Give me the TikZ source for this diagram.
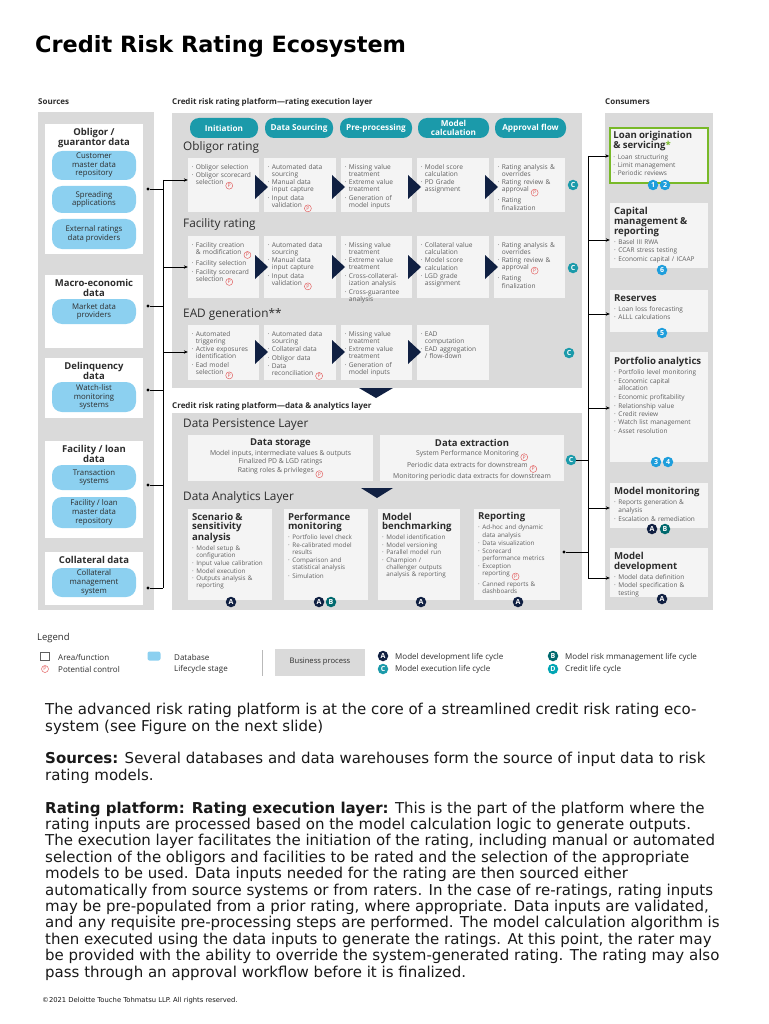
\documentclass[tikz,border=0pt]{standalone}
\usepackage{fontspec}
\setmainfont{Open Sans}
\newfontfamily\dejavu{DejaVu Sans}
\usetikzlibrary{fit,arrows.meta}
\definecolor{pgray}{RGB}{218,218,218}
\definecolor{boxw}{RGB}{244,244,244}
\definecolor{tealc}{RGB}{27,154,170}
\definecolor{pillb}{RGB}{140,208,240}
\definecolor{navy}{RGB}{16,32,66}
\definecolor{txtg}{RGB}{95,95,95}
\definecolor{txtd}{RGB}{45,45,45}
\definecolor{txtb}{RGB}{25,25,25}
\definecolor{greenb}{RGB}{120,185,40}
\definecolor{numb}{RGB}{30,158,220}
\definecolor{pred}{RGB}{226,90,90}
\definecolor{bteal}{RGB}{0,105,110}
\definecolor{dteal}{RGB}{0,165,180}
\newcommand\myfs[2]{\fontsize{#1}{#2}\selectfont}
\newcommand\itm[1]{\par\noindent\makebox[4.4pt][l]{\textperiodcentered}\begin{tabular}[t]{@{}l@{}}#1\end{tabular}}
\newcommand\pc{\tikz[baseline=-1.9pt]\node[circle,draw=pred,line width=0.45pt,inner sep=0pt,minimum size=7pt,text=pred,font=\myfs{5.2}{5.2}]{P};}
\newcommand\atitle[1]{{\bfseries\color{txtd}\myfs{9.6}{9.2}\setlength\parskip{0pt}#1\par}\vspace{1.5pt}}
\newcommand\ctitle[1]{{\bfseries\color{txtd}\myfs{9.6}{10}\setlength\parskip{0pt}#1\par}\vspace{1pt}}
\newcommand\ebx[6]{\node[ebox,fit={(#2,#3)(#4,#5)}] (#1) {};\node[etxt,anchor=north west] (#1t) at ([shift={(3.5,3.5)}]#1.north west) {#6};}
\newcommand\dsrc{\itm{Automated data\\sourcing}\itm{Manual data\\input capture}\itm{Input data\\validation \pc}}
\newcommand\prep{\itm{Missing value\\treatment}\itm{Extreme value\\treatment}\itm{Generation of\\model inputs}}
\newcommand\appr{\itm{Rating analysis \&\\overrides}\itm{Rating review \&\\approval \pc}\itm{Rating\\finalization}}
\newcommand\rtri[2]{\fill[navy] (#1-4,#2-12) -- (#1-4,#2+12) -- (#1+9,#2) -- cycle;}
\begin{document}
\begin{tikzpicture}[x=1pt,y=-1pt,
 panel/.style={fill=pgray,inner sep=0,draw=none},
 ebox/.style={fill=boxw,inner sep=0,draw=none},
 wbox/.style={fill=white,inner sep=0,draw=none},
 etxt/.style={inner sep=0,align=left,text width=100pt,text=txtg,font={\myfs{6.6}{7.0}\setlength\parskip{0.6pt}}},
 atxt/.style={inner sep=0,align=left,text width=100pt,text=txtg,font={\myfs{6.3}{7.1}\setlength\parskip{0.4pt}}},
 ctxt/.style={inner sep=0,align=left,text width=100pt,text=txtg,font={\myfs{6.5}{7.5}\setlength\parskip{0.8pt}}},
 hdr/.style={anchor=base west,inner sep=0,text=txtd,font=\bfseries\myfs{8}{9}},
 rowlbl/.style={anchor=base west,inner sep=0,text=txtd,font=\myfs{11.8}{13}},
 phase/.style={fill=tealc,rounded corners=9pt,text=white,align=center,inner sep=0,minimum height=20pt,font=\bfseries\myfs{8.2}{8.6}},
 pill/.style={fill=pillb,rounded corners=10pt,align=center,inner sep=0,text=txtd,font=\myfs{7.8}{8.6},minimum width=84pt},
 stitle/.style={anchor=north,align=center,inner sep=0,text=txtd,font=\bfseries\myfs{9.5}{10}},
 bdg/.style={circle,fill=#1,text=white,inner sep=0,minimum size=10.5pt,font=\bfseries\myfs{7}{7}},
 dotn/.style={circle,fill=black,inner sep=0,minimum size=3.2pt},
 conn/.style={draw=black,line width=0.6pt},
 arr/.style={conn,-{Stealth[length=4pt,width=3.4pt]}},
 ltxt/.style={anchor=west,inner sep=0,text=txtd,font=\myfs{8}{9}},
]
\useasboundingbox (0,0) rectangle (768,1024);
\fill[white] (0,0) rectangle (768,1024);
% title
\node[anchor=base west,inner sep=0,text=black,font=\dejavu\bfseries\myfs{22.4}{24}] (title) at (35,53) {Credit Risk Rating Ecosystem};
% headers
\node[hdr] (hsrc) at (38,105) {Sources};
\node[hdr] (hexe) at (172,105) {Credit risk rating platform—rating execution layer};
\node[hdr] (hcon) at (605,105) {Consumers};
% ---------------- sources
\node[panel,fit={(38,112)(154,610)}] (srcp) {};
\node[wbox,fit={(45,124)(143,254)}] (s1) {};
\node[stitle] (s1t) at (94,128) {Obligor /\\guarantor data};
\node[pill,minimum height=29pt] (s1a) at (94,165.5) {Customer\\master data\\repository};
\node[pill,minimum height=27pt] (s1b) at (94,199.5) {Spreading\\applications};
\node[pill,minimum height=30pt] (s1c) at (94,234) {External ratings\\data providers};
\node[dotn] (d1) at (148,189) {};
\node[wbox,fit={(45,275)(143,348)}] (s2) {};
\node[stitle] (s2t) at (94,279) {Macro-economic\\data};
\node[pill,minimum height=25pt] (s2a) at (94,311.5) {Market data\\providers};
\node[dotn] (d2) at (148,306) {};
\node[wbox,fit={(45,358)(143,418)}] (s3) {};
\node[stitle] (s3t) at (94,362) {Delinquency\\data};
\node[pill,minimum height=30pt] (s3a) at (94,397) {Watch-list\\monitoring\\systems};
\node[dotn] (d3) at (148,390) {};
\node[wbox,fit={(45,441)(143,538)}] (s4) {};
\node[stitle] (s4t) at (94,445) {Facility / loan\\data};
\node[pill,minimum height=25pt] (s4a) at (94,477.5) {Transaction\\systems};
\node[pill,minimum height=31pt] (s4b) at (94,512.5) {Facility / loan\\master data\\repository};
\node[dotn] (d4) at (148,485) {};
\node[wbox,fit={(45,552)(143,605)}] (s5) {};
\node[stitle] (s5t) at (94,556) {Collateral data};
\node[pill,minimum height=29pt] (s5a) at (94,582.5) {Collateral\\management\\system};
\node[dotn] (d5) at (148,588) {};
% ---------------- execution layer
\node[panel,fit={(172,113)(582,388)}] (exep) {};
\node[phase,minimum width=68pt] (ph1) at (224,128) {Initiation};
\node[phase,minimum width=68pt] (ph2) at (299,128) {Data Sourcing};
\node[phase,minimum width=72pt] (ph3) at (376,128) {Pre-processing};
\node[phase,minimum width=71pt] (ph4) at (453.5,128) {Model\\calculation};
\node[phase,minimum width=71pt] (ph5) at (530.5,128) {Approval flow};
\node[rowlbl] (lo) at (183,151) {Obligor rating};
\node[rowlbl] (lf) at (183,228) {Facility rating};
\node[rowlbl] (le) at (183,317) {EAD generation**};
% obligor row
\ebx{oA}{188}{158}{259}{212}{\itm{Obligor selection}\itm{Obligor scorecard\\selection \pc}}
\ebx{oB}{264}{158}{336}{212}{\dsrc}
\ebx{oC}{341}{158}{412}{212}{\prep}
\ebx{oD}{417}{158}{489}{212}{\itm{Model score\\calculation}\itm{PD Grade\\assignment}}
\ebx{oE}{494}{158}{565}{212}{\appr}
% facility row
\ebx{fA}{188}{236}{259}{298}{\itm{Facility creation\\\& modification \pc}\itm{Facility selection}\itm{Facility scorecard\\selection \pc}}
\ebx{fB}{264}{236}{336}{298}{\dsrc}
\ebx{fC}{341}{236}{412}{298}{\itm{Missing value\\treatment}\itm{Extreme value\\treatment}\itm{Cross-collateral-\\ization analysis}\itm{Cross-guarantee\\analysis}}
\ebx{fD}{417}{236}{489}{298}{\itm{Collateral value\\calculation}\itm{Model score\\calculation}\itm{LGD grade\\assignment}}
\ebx{fE}{494}{236}{565}{298}{\appr}
% EAD row
\ebx{eA}{188}{325}{259}{380}{\itm{Automated\\triggering}\itm{Active exposures\\identification}\itm{Ead model\\selection \pc}}
\ebx{eB}{264}{325}{336}{380}{\itm{Automated data\\sourcing}\itm{Collateral data}\itm{Obligor data}\itm{Data\\reconciliation \pc}}
\ebx{eC}{341}{325}{412}{380}{\prep}
\ebx{eD}{417}{325}{489}{380}{\itm{EAD\\computation}\itm{EAD aggregation\\/ flow-down}}
% triangles
\rtri{259}{187}\rtri{336}{187}\rtri{412}{187}\rtri{489}{187}
\rtri{259}{267}\rtri{336}{267}\rtri{412}{267}\rtri{489}{267}
\rtri{259}{352}\rtri{336}{352}\rtri{412}{352}
\node[bdg=tealc] (cO) at (573,185) {C};
\node[bdg=tealc] (cF) at (573,268) {C};
\node[bdg=tealc] (cE) at (569,353) {C};
\fill[navy] (359,388) -- (393,388) -- (376,398) -- cycle;
% ---------------- data & analytics layer
\node[hdr] (hdat) at (172,408) {Credit risk rating platform—data \& analytics layer};
\node[panel,fit={(172,413)(582,610)}] (datp) {};
\node[rowlbl] (ldp) at (183,427) {Data Persistence Layer};
\node[ebox,fit={(188,435)(373,481)}] (dst) {};
\node[ebox,fit={(380,435)(564,481)}] (dex) {};
\node[inner sep=0,text=txtd,font=\bfseries\myfs{9.5}{10}] (dstt) at (280.5,443) {Data storage};
\node[inner sep=0,text=txtg,align=center,anchor=north,font=\myfs{6.8}{8.5}] (dstx) at (280.5,450) {Model inputs, intermediate values \& outputs\\Finalized PD \& LGD ratings\\Rating roles \& privileges \pc};
\node[inner sep=0,text=txtd,font=\bfseries\myfs{9.5}{10}] (dext) at (472,443) {Data extraction};
\node[inner sep=0,text=txtg,align=center,anchor=north,font=\myfs{6.8}{8.5}] (dexx) at (472,450) {System Performance Monitoring \pc\\Periodic data extracts for downstream \pc\\Monitoring periodic data extracts for downstream};
\node[bdg=tealc] (cD) at (571,460) {C};
\fill[navy] (361,488) -- (393,488) -- (377,498) -- cycle;
\node[rowlbl] (lda) at (183,500) {Data Analytics Layer};
\node[ebox,fit={(188,509)(272,600)}] (aS) {};
\node[atxt,anchor=north west] (aSt) at ([shift={(4,4)}]aS.north west) {\atitle{Scenario \&\\sensitivity\\analysis}\itm{Model setup \&\\configuration}\itm{Input value calibration}\itm{Model execution}\itm{Outputs analysis \&\\reporting}};
\node[ebox,fit={(284,509)(368,600)}] (aP) {};
\node[atxt,anchor=north west] (aPt) at ([shift={(4,4)}]aP.north west) {\atitle{Performance\\monitoring}\itm{Portfolio level check}\itm{Re-calibrated model\\results}\itm{Comparison and\\statistical analysis}\itm{Simulation}};
\node[ebox,fit={(378,509)(460,600)}] (aM) {};
\node[atxt,anchor=north west] (aMt) at ([shift={(4,4)}]aM.north west) {\atitle{Model\\benchmarking}\itm{Model identification}\itm{Model versioning}\itm{Parallel model run}\itm{Champion /\\challenger outputs\\analysis \& reporting}};
\node[ebox,fit={(474,509)(560,600)}] (aR) {};
\node[atxt,anchor=north west] (aRt) at ([shift={(4,3.5)}]aR.north west) {\atitle{Reporting}\itm{Ad-hoc and dynamic\\data analysis}\itm{Data visualization}\itm{Scorecard\\performance metrics}\itm{Exception\\reporting \pc}\itm{Canned reports \&\\dashboards}};
\node[bdg=navy] (bS) at (231,602) {A};
\node[bdg=navy] (bP1) at (319,602) {A};
\node[bdg=bteal] (bP2) at (331,602) {B};
\node[bdg=navy] (bM) at (421,602) {A};
\node[bdg=navy] (bR) at (518,602) {A};
\node[dotn] (dR) at (564,552) {};
% ---------------- consumers
\node[panel,fit={(605,113)(713,610)}] (conp) {};
\node[ebox,fit={(610,128)(708,183)},draw=greenb,line width=1.6pt] (k1) {};
\node[ctxt,anchor=north west] (k1t) at ([shift={(4,4)}]k1.north west) {\ctitle{Loan origination\\\& servicing{\color{greenb}*}}\itm{Loan structuring}\itm{Limit management}\itm{Periodic reviews}};
\node[ebox,fit={(610,203)(708,268)}] (k2) {};
\node[ctxt,anchor=north west] (k2t) at ([shift={(4,4)}]k2.north west) {\ctitle{Capital\\management \&\\reporting}\itm{Basel III RWA}\itm{CCAR stress testing}\itm{Economic capital / ICAAP}};
\node[ebox,fit={(610,290)(708,332)}] (k3) {};
\node[ctxt,anchor=north west] (k3t) at ([shift={(4,5)}]k3.north west) {\ctitle{Reserves}\itm{Loan loss forecasting}\itm{ALLL calculations}};
\node[ebox,fit={(610,352)(708,462)}] (k4) {};
\node[ctxt,anchor=north west] (k4t) at ([shift={(4,5)}]k4.north west) {\ctitle{Portfolio analytics}\itm{Portfolio level monitoring}\itm{Economic capital\\allocation}\itm{Economic profitability}\itm{Relationship value}\itm{Credit review}\itm{Watch list management}\itm{Asset resolution}};
\node[ebox,fit={(610,483)(708,528)}] (k5) {};
\node[ctxt,anchor=north west] (k5t) at ([shift={(4,4)}]k5.north west) {\ctitle{Model monitoring}\itm{Reports generation \&\\analysis}\itm{Escalation \& remediation}};
\node[ebox,fit={(610,548)(708,597)}] (k6) {};
\node[ctxt,anchor=north west] (k6t) at ([shift={(4,4)}]k6.north west) {\ctitle{Model\\development}\itm{Model data definition}\itm{Model specification \&\\testing}};
\node[bdg=numb] (n1) at (653,185) {1};
\node[bdg=numb] (n2) at (665,185) {2};
\node[bdg=numb] (n6) at (662,270) {6};
\node[bdg=numb] (n5) at (662,333) {5};
\node[bdg=numb] (n3) at (656,462) {3};
\node[bdg=numb] (n4) at (668,462) {4};
\node[bdg=navy] (kA1) at (652,529) {A};
\node[bdg=bteal] (kB1) at (665,529) {B};
\node[bdg=navy] (kA2) at (662,599) {A};
% ---------------- connectors (sources)
\coordinate (sjT) at (163,180);
\coordinate (sjB) at (163,588);
\coordinate (sjF) at (163,267);
\coordinate (sjE) at (163,352);
\draw[conn] (sjT) -- (sjB);
\draw[conn] (d1) -- (d1 -| sjT);
\draw[conn] (d2) -- (d2 -| sjT);
\draw[conn] (d3) -- (d3 -| sjT);
\draw[conn] (d4) -- (d4 -| sjT);
\draw[conn] (d5) -- (sjB);
\draw[arr] (sjT) -- (sjT -| oA.west);
\draw[arr] (sjF) -- (sjF -| fA.west);
\draw[arr] (sjE) -- (sjE -| eA.west);
% connectors (consumers)
\coordinate (cj1) at (588,156);
\coordinate (cj2) at (588,240);
\coordinate (cj3) at (588,314);
\coordinate (cj4) at (588,408);
\coordinate (cj5) at (588,508);
\coordinate (cj6) at (588,578);
\coordinate (cjD) at (588,460);
\coordinate (cjR) at (588,552);
\draw[conn] (cj1) -- (cj6);
\draw[conn] (cD) -- (cjD);
\draw[conn] (dR) -- (cjR);
\draw[arr] (cj1) -- (cj1 -| k1.west);
\draw[arr] (cj2) -- (cj2 -| k2.west);
\draw[arr] (cj3) -- (cj3 -| k3.west);
\draw[arr] (cj4) -- (cj4 -| k4.west);
\draw[arr] (cj5) -- (cj5 -| k5.west);
\draw[arr] (cj6) -- (cj6 -| k6.west);
% ---------------- legend
\node[anchor=base west,inner sep=0,text=txtd,font=\myfs{9.5}{10}] (leg) at (37,640) {Legend};
\node[draw=txtg,line width=0.4pt,fill=white,minimum width=9pt,minimum height=8pt,inner sep=0] (lg1) at (45,656) {};
\node[ltxt] (lg1t) at (58,657) {Area/function};
\node[inner sep=0] (lg2) at (45,669) {\pc};
\node[ltxt] (lg2t) at (58,669) {Potential control};
\node[fill=pillb,rounded corners=2pt,minimum width=13pt,minimum height=9pt,inner sep=0] (lg3) at (154,656) {};
\node[ltxt] (lg3t) at (174,657) {Database};
\node[ltxt] (lg4t) at (174,669) {Lifecycle stage};
\draw[draw=pgray!85!black,line width=0.4pt] (262,650) -- (262,676);
\node[fill=pgray,minimum width=90pt,minimum height=27pt,inner sep=0,text=txtd,font=\myfs{7.6}{8}] (lg5) at (320,662) {Business process};
\node[bdg=navy] (lgA) at (383,656) {A};
\node[ltxt] (lgAt) at (395,657) {Model development life cycle};
\node[bdg=tealc] (lgC) at (383,669) {C};
\node[ltxt] (lgCt) at (395,669) {Model execution life cycle};
\node[bdg=bteal] (lgB) at (553,656) {B};
\node[ltxt] (lgBt) at (565,657) {Model risk mmanagement life cycle};
\node[bdg=dteal] (lgD) at (553,669) {D};
\node[ltxt] (lgDt) at (565,669) {Credit life cycle};
% ---------------- body text
\node[anchor=north west,inner sep=0,align=left,text=txtb,font=\dejavu\myfs{15}{16.4}] (body) at (45,703) {The advanced risk rating platform is at the core of a streamlined credit risk rating eco-\\system (see Figure on the next slide)\\[16.4pt]\textbf{Sources:} Several databases and data warehouses form the source of input data to risk\\rating models.\\[16.4pt]\textbf{Rating platform: Rating execution layer:} This is the part of the platform where the\\rating inputs are processed based on the model calculation logic to generate outputs.\\The execution layer facilitates the initiation of the rating, including manual or automated\\selection of the obligors and facilities to be rated and the selection of the appropriate\\models to be used. Data inputs needed for the rating are then sourced either\\automatically from source systems or from raters. In the case of re-ratings, rating inputs\\may be pre-populated from a prior rating, where appropriate. Data inputs are validated,\\and any requisite pre-processing steps are performed. The model calculation algorithm is\\then executed using the data inputs to generate the ratings. At this point, the rater may\\be provided with the ability to override the system-generated rating. The rating may also\\pass through an approval workflow before it is finalized.};
\node[anchor=base west,inner sep=0,text=txtb,font=\dejavu\myfs{6.8}{7}] (copy) at (42,1002) {©2021 Deloitte Touche Tohmatsu LLP. All rights reserved.};
\end{tikzpicture}
\end{document}
